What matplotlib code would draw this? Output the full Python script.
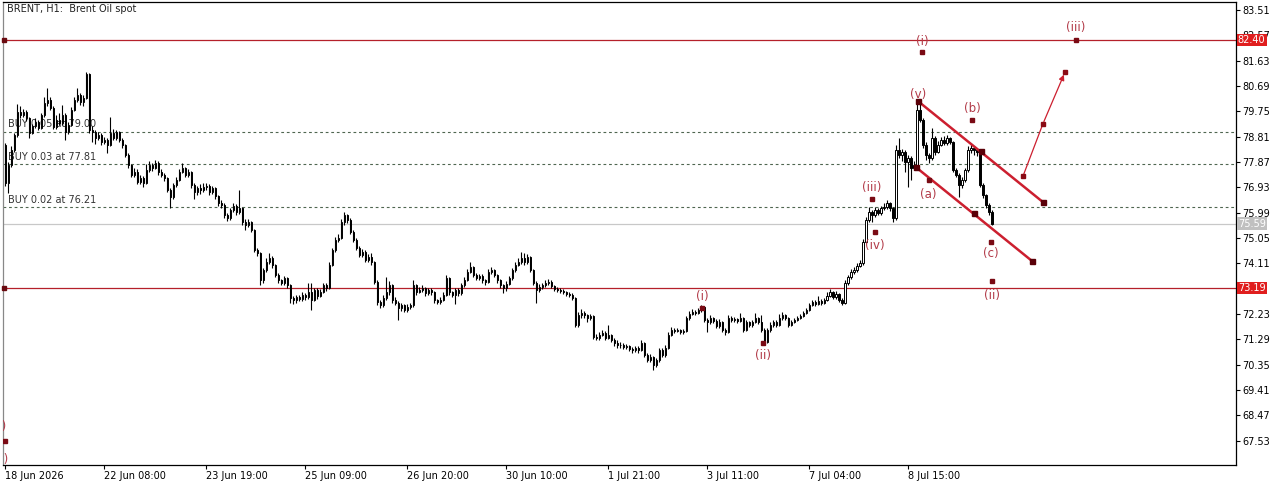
import matplotlib
matplotlib.use("Agg")
import matplotlib.pyplot as plt
import numpy as np

# ---------------- data ----------------
first_open = 78.50
closes = [
 77.09,77.76,78.32,78.87,79.72,79.61,79.72,79.50,78.95,79.21,
 79.35,79.13,79.61,80.06,80.17,79.87,79.17,79.43,79.32,79.61,
 78.98,79.24,79.80,80.17,80.36,80.10,80.24,81.14,79.06,78.98,
 78.76,78.87,78.61,78.69,78.50,78.95,78.76,78.98,78.69,78.50,
 78.13,77.76,77.39,77.50,77.13,77.27,77.09,77.57,77.76,77.65,
 77.83,77.50,77.39,77.27,76.83,76.57,77.02,77.20,77.50,77.65,
 77.39,77.50,77.02,76.76,76.90,76.83,76.94,76.98,76.76,76.90,
 76.61,76.35,76.27,75.90,75.79,76.09,76.24,76.01,76.16,75.64,
 75.53,75.64,75.35,74.61,74.49,73.49,73.86,74.16,74.31,74.05,
 73.68,73.49,73.38,73.57,73.30,72.82,72.75,72.86,72.79,72.94,
 72.86,73.05,72.75,73.12,72.90,73.05,73.30,73.19,74.05,74.61,
 74.98,75.05,75.64,75.90,75.72,75.27,74.98,74.68,74.42,74.53,
 74.23,74.34,74.16,73.42,72.67,72.56,72.82,73.05,73.30,72.75,
 72.64,72.45,72.56,72.38,72.49,72.56,73.30,73.05,73.12,73.19,
 73.01,73.12,73.05,72.75,72.67,72.75,72.94,73.57,73.05,72.94,
 73.12,73.01,73.30,73.49,73.79,73.97,73.68,73.57,73.64,73.49,
 73.42,73.79,73.86,73.68,73.49,73.30,73.19,73.34,73.57,73.86,
 74.05,74.16,74.31,74.16,74.34,73.86,73.38,73.12,73.23,73.30,
 73.38,73.42,73.27,73.16,73.12,73.08,73.05,72.97,72.94,72.82,
 71.82,72.19,72.27,72.19,72.08,72.16,71.38,71.34,71.45,71.52,
 71.34,71.45,71.27,71.15,71.08,71.08,71.01,71.04,70.93,70.89,
 70.97,70.89,71.15,70.71,70.52,70.63,70.34,70.52,70.89,70.71,
 70.97,71.45,71.64,71.60,71.64,71.56,71.60,72.08,72.23,72.30,
 72.27,72.38,72.49,72.01,71.93,72.08,71.97,71.78,71.93,71.64,
 71.56,72.08,72.01,72.04,71.97,72.08,71.64,71.93,71.82,71.93,
 72.08,71.93,71.64,71.19,71.64,71.82,71.93,71.82,72.08,72.19,
 72.08,71.82,71.93,72.01,72.08,72.16,72.27,72.38,72.56,72.67,
 72.60,72.71,72.64,72.75,72.90,73.05,72.86,72.97,72.75,72.64,
 73.38,73.60,73.79,73.86,74.01,74.12,74.90,75.72,76.01,75.90,
 76.09,75.98,76.16,76.20,76.35,76.16,75.79,78.32,78.13,78.24,
 77.87,78.02,77.65,77.76,79.80,79.43,78.50,78.13,78.02,78.76,
 78.24,78.50,78.69,78.57,78.76,78.61,77.57,77.39,77.02,77.20,
 77.57,78.32,78.39,78.32,78.24,77.02,76.65,76.27,76.01,75.59,
]
highs = [
 78.58,77.87,78.45,78.95,80.02,79.95,79.85,79.80,79.55,79.30,
 79.50,79.45,79.70,80.30,80.62,80.30,79.95,79.60,79.70,80.00,
 79.70,79.35,79.90,80.30,80.62,80.45,80.35,81.21,81.17,79.20,
 79.05,79.00,78.95,78.80,78.75,79.54,79.10,79.05,79.02,78.75,
 78.55,78.20,77.80,77.65,77.60,77.40,77.35,77.80,77.90,77.85,
 77.95,77.90,77.60,77.45,77.30,76.90,77.10,77.30,77.60,77.83,
 77.70,77.60,77.55,77.10,77.00,77.05,77.10,77.10,77.05,77.00,
 76.95,76.65,76.45,76.35,75.98,76.15,76.35,76.30,76.83,76.20,
 75.75,75.75,75.70,75.40,74.70,74.55,73.95,74.30,74.49,74.40,
 74.10,73.75,73.55,73.65,73.62,73.35,72.90,72.95,72.95,73.05,
 73.00,73.38,73.38,73.20,73.20,73.15,73.40,73.40,74.15,74.70,
 75.10,75.20,75.75,76.01,75.95,75.78,75.35,75.05,74.75,74.65,
 74.60,74.45,74.50,74.20,73.50,72.75,72.95,73.60,73.45,73.35,
 72.85,72.70,72.65,72.60,72.60,72.65,73.49,73.35,73.25,73.30,
 73.25,73.20,73.20,73.10,72.80,72.85,73.05,73.68,73.62,73.10,
 73.20,73.20,73.40,73.60,73.90,74.16,74.00,73.75,73.72,73.70,
 73.55,73.90,73.97,73.90,73.72,73.55,73.35,73.45,73.65,73.95,
 74.15,74.30,74.53,74.50,74.45,74.40,73.90,73.45,73.35,73.40,
 73.50,73.55,73.50,73.32,73.25,73.20,73.15,73.10,73.05,73.00,
 72.85,72.30,72.40,72.35,72.25,72.25,72.20,71.50,71.55,71.64,
 71.60,71.82,71.50,71.35,71.25,71.20,71.15,71.12,71.10,71.00,
 71.05,71.05,71.27,71.20,70.78,70.75,70.68,70.60,70.97,70.97,
 71.08,71.56,71.75,71.70,71.72,71.68,71.68,72.15,72.35,72.40,
 72.38,72.45,72.56,72.52,72.08,72.19,72.12,72.04,72.04,71.97,
 71.70,72.19,72.15,72.12,72.10,72.27,72.12,72.01,71.97,72.01,
 72.27,72.12,72.19,71.70,71.72,71.93,72.01,72.01,72.23,72.30,
 72.23,72.12,72.01,72.08,72.15,72.23,72.35,72.45,72.64,72.75,
 72.75,72.90,72.79,72.82,73.05,73.16,73.08,73.08,73.01,72.82,
 73.49,73.68,73.90,73.97,74.12,74.23,75.00,75.85,76.20,76.10,
 76.20,76.16,76.24,76.35,76.46,76.40,76.20,78.50,78.76,78.35,
 78.32,78.13,78.10,77.90,80.13,80.17,79.50,78.60,78.20,79.13,
 78.85,78.65,78.80,78.85,78.87,78.80,78.65,77.65,77.45,77.30,
 77.65,78.45,78.57,78.45,78.40,78.30,77.10,76.70,76.35,76.09,
]
lows = [
 76.98,76.72,77.70,78.24,78.80,79.50,79.55,79.40,78.76,78.90,
 79.15,79.05,79.10,79.55,79.95,79.80,79.10,79.10,79.25,79.25,
 78.69,78.90,79.20,79.75,80.10,80.00,79.95,80.20,78.95,78.60,
 78.55,78.70,78.50,78.55,78.20,78.45,78.70,78.70,78.60,78.40,
 78.05,77.65,77.30,77.30,77.05,77.05,76.95,77.05,77.50,77.55,
 77.60,77.40,77.30,77.15,76.75,76.16,76.50,76.95,77.15,77.45,
 77.30,77.30,76.90,76.50,76.65,76.70,76.75,76.85,76.65,76.70,
 76.50,76.25,76.15,75.80,75.70,75.72,76.00,75.90,75.95,75.55,
 75.35,75.45,75.27,74.53,74.40,73.30,73.40,73.80,74.10,73.95,
 73.60,73.40,73.30,73.30,73.20,72.64,72.60,72.65,72.70,72.70,
 72.75,72.80,72.38,72.70,72.80,72.85,73.00,73.10,73.15,74.00,
 74.55,74.90,75.00,75.55,75.60,75.20,74.90,74.60,74.35,74.35,
 74.15,74.15,74.05,73.35,72.55,72.45,72.50,72.75,72.95,72.65,
 72.55,72.01,72.35,72.30,72.30,72.40,72.50,72.95,73.00,73.05,
 72.90,72.95,72.95,72.65,72.60,72.60,72.70,72.90,72.95,72.85,
 72.60,72.90,72.95,73.25,73.45,73.75,73.60,73.50,73.50,73.40,
 73.30,73.38,73.72,73.60,73.40,73.20,73.01,73.10,73.30,73.50,
 73.80,74.00,74.10,74.05,74.10,73.80,73.30,72.64,73.05,73.15,
 73.25,73.30,73.20,73.10,73.05,73.00,72.98,72.90,72.85,72.75,
 71.75,71.75,72.10,72.10,71.95,72.00,71.30,71.25,71.27,71.40,
 71.27,71.30,71.19,71.05,70.97,70.97,70.93,70.93,70.85,70.80,
 70.82,70.80,70.85,70.63,70.45,70.45,70.15,70.25,70.45,70.63,
 70.65,70.93,71.40,71.52,71.55,71.50,71.50,71.56,72.00,72.19,
 72.19,72.23,72.30,71.93,71.56,71.85,71.90,71.70,71.70,71.56,
 71.45,71.52,71.93,71.95,71.90,71.93,71.56,71.60,71.75,71.75,
 71.90,71.85,71.56,71.15,71.15,71.56,71.75,71.75,71.78,72.01,
 72.01,71.75,71.78,71.90,71.97,72.04,72.12,72.23,72.35,72.52,
 72.52,72.56,72.56,72.60,72.71,72.86,72.79,72.79,72.67,72.56,
 72.60,73.30,73.55,73.72,73.79,73.97,74.05,74.85,75.65,75.64,
 75.82,75.90,75.90,76.09,76.12,76.05,75.64,75.72,78.02,77.90,
 77.50,76.94,77.20,77.57,77.70,79.35,78.40,77.95,77.83,77.94,
 78.13,78.20,78.45,78.50,78.50,78.55,77.50,77.30,76.57,76.90,
 77.13,77.50,78.20,78.15,78.10,76.95,76.55,76.15,75.90,75.55,
]

ytick_values = [83.51, 82.57, 81.63, 80.69, 79.75, 78.81, 77.87, 76.93, 75.99,
                75.05, 74.11, 72.23, 71.29, 70.35, 69.41, 68.47, 67.53]
xtick_bars = [0, 33, 67, 100, 134, 167, 201, 234, 268, 301]
xtick_labels = ["18 Jun 2026", "22 Jun 08:00", "23 Jun 19:00", "25 Jun 09:00",
                "26 Jun 20:00", "30 Jun 10:00", "1 Jul 21:00", "3 Jul 11:00",
                "7 Jul 04:00", "8 Jul 15:00"]

level_red = [82.40, 73.19]
bid_price = 75.59
buy_levels = [79.00, 77.81, 76.21]
buy_labels = ["BUY 0.05 at 79.00", "BUY 0.03 at 77.81", "BUY 0.02 at 76.21"]

# wave labels: text, label (bar, price), marker (bar, price)
wave_text = ["(i)", "(iii)", "(v)", "(b)", "(a)", "(iii)", "(iv)", "(c)", "(ii)", "(i)", "(ii)", "(v)", "(v)"]
wave_lx = [305.5, 356.8, 304.2, 322.2, 307.5, 288.8, 289.8, 328.5, 328.8, 232.2, 252.5, -2.3, -1.8]
wave_ly = [82.36, 82.88, 80.39, 79.87, 76.65, 76.94, 74.79, 74.46, 72.93, 72.90, 70.71, 68.05, 66.85]
mark_x = [305.5, 356.8, 322.2, 307.7, 288.8, 289.8, 328.5, 328.8, 232.2, 252.5, -0.2]
mark_y = [81.95, 82.40, 79.43, 77.20, 76.50, 75.27, 74.90, 73.45, 72.45, 71.15, 67.52]

chan_up_x = [304.2, 325.2, 345.8]
chan_up_y = [80.13, 78.28, 76.39]
chan_lo_x = [303.5, 322.8, 342.2]
chan_lo_y = [77.68, 75.98, 74.20]
path_x = [339.2, 345.8, 353.2]
path_y = [77.35, 79.28, 81.21]

# ---------------- figure ----------------
W, H = 1280, 484
fig = plt.figure(figsize=(W / 100, H / 100), dpi=100)
ax = fig.add_axes([3 / W, 1 - 465 / H, (1236 - 3) / W, (465 - 2) / H])
ax.set_xlim(-0.83, 410.2)
ax.set_ylim(66.63, 83.81)

opens = [first_open] + closes[:-1]
n = len(closes)
x = np.arange(n)
o = np.array(opens); c = np.array(closes)
hi = np.array(highs); lo = np.array(lows)
ax.vlines(x, lo, hi, color="black", lw=0.8, zorder=3)
bull = c >= o
bh = np.where(np.abs(c - o) < 0.015, 0.015, c - o)
ax.bar(x[bull], bh[bull], bottom=o[bull], width=0.62, facecolor="white",
       edgecolor="black", linewidth=0.7, zorder=4)
ax.bar(x[~bull], bh[~bull], bottom=o[~bull], width=0.62, facecolor="black",
       edgecolor="black", linewidth=0.7, zorder=4)

# horizontal levels
for lv in level_red:
    ax.axhline(lv, color="#b5202a", lw=0.9, zorder=2)
    ax.plot([-0.6], [lv], marker="s", ms=3.2, color="#6a0a10", zorder=5, clip_on=False)
    ax.text(1.0015, lv, f"{lv:.2f}", transform=ax.get_yaxis_transform(), ha="left",
            va="center", fontsize=7, color="white",
            bbox=dict(boxstyle="square,pad=0.12", fc="#e01e1e", ec="none"), zorder=6)
ax.axhline(bid_price, color="#c8c8c8", lw=0.9, zorder=1)
ax.text(1.0015, bid_price, f"{bid_price:.2f}", transform=ax.get_yaxis_transform(),
        ha="left", va="center", fontsize=7, color="white",
        bbox=dict(boxstyle="square,pad=0.12", fc="#c0c0c0", ec="none"), zorder=6)
for lv, lab in zip(buy_levels, buy_labels):
    ax.axhline(lv, color="#4f6650", lw=0.8, ls=(0, (2.5, 2.5)), zorder=1)
    ax.text(1.0, lv + 0.08, lab, fontsize=7, color="#333333", ha="left", va="bottom", zorder=2)

# channel + projection
red = "#cc1f2f"
ax.plot([chan_up_x[0], chan_up_x[-1]], [chan_up_y[0], chan_up_y[-1]], color=red, lw=1.8, zorder=6)
ax.plot([chan_lo_x[0], chan_lo_x[-1]], [chan_lo_y[0], chan_lo_y[-1]], color=red, lw=1.8, zorder=6)
ax.plot(chan_up_x, chan_up_y, ls="none", marker="s", ms=3.6, color="#5a0008", zorder=7)
ax.plot(chan_lo_x, chan_lo_y, ls="none", marker="s", ms=3.6, color="#5a0008", zorder=7)
ax.plot(path_x[:2], path_y[:2], color=red, lw=0.9, zorder=6)
ax.annotate("", xy=(path_x[2], path_y[2]), xytext=(path_x[1], path_y[1]),
            arrowprops=dict(arrowstyle="-|>", color=red, lw=0.9, mutation_scale=8), zorder=6)
ax.plot(path_x, path_y, ls="none", marker="s", ms=2.8, color="#8a0a14", zorder=7)

# wave labels
for t, lx, ly in zip(wave_text, wave_lx, wave_ly):
    ax.text(lx, ly, t, fontsize=8.5, color="#b23a48", ha="center", va="center",
            zorder=8, clip_on=True)
ax.plot(mark_x, mark_y, ls="none", marker="s", ms=2.8, color="#7a0a14", zorder=8, clip_on=True)

# title
ax.text(0.5, 83.55, "BRENT, H1:  Brent Oil spot", fontsize=7, color="#222222",
        ha="left", va="center", zorder=8)

# axes styling
ax.yaxis.tick_right()
ax.set_yticks(ytick_values)
ax.set_yticklabels([f"{v:.2f}" for v in ytick_values])
ax.set_xticks(xtick_bars)
ax.set_xticklabels(xtick_labels, ha="left")
ax.tick_params(axis="y", direction="out", length=3, width=0.8, labelsize=7, pad=1.5, colors="black")
ax.tick_params(axis="x", direction="out", length=3, width=0.8, labelsize=7, pad=1.5, colors="black")
for lab in ax.get_xticklabels():
    lab.set_horizontalalignment("left")
for s in ax.spines.values():
    s.set_color("black"); s.set_linewidth(0.9)
ax.spines["left"].set_color("#888888")

fig.savefig("out.png", dpi=100, facecolor="white")
